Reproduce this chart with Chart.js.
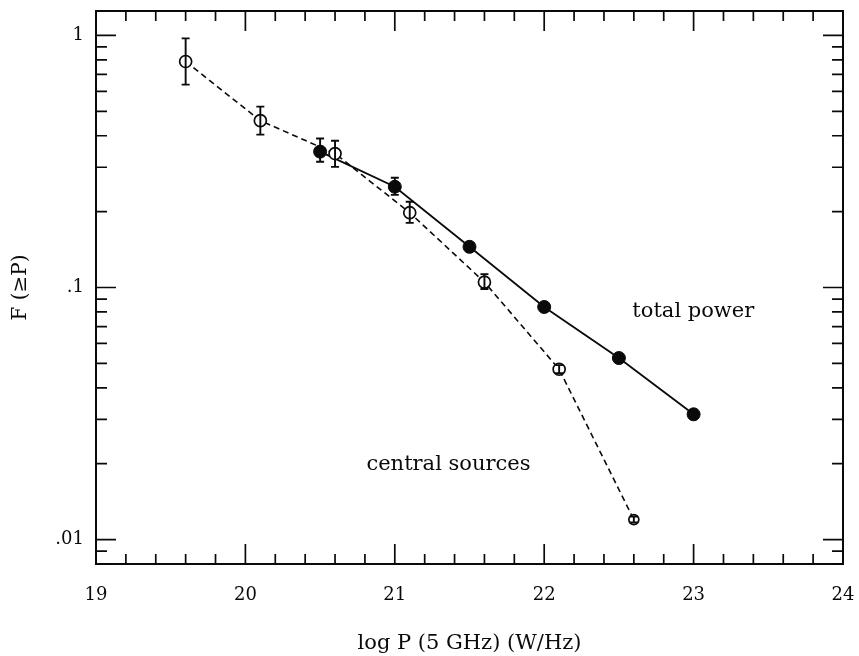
<!DOCTYPE html>
<html>
<head>
<meta charset="utf-8">
<script src="https://cdn.jsdelivr.net/npm/chart.js@4.4.1/dist/chart.umd.min.js"></script>
<style>
  html, body { margin: 0; background: #fff; }
  canvas { display: block; }
</style>
</head>
<body>
<canvas id="chart" width="859" height="656"></canvas>
<script>
// Central sources (open circles, dashed line)
var centralX = [19.6, 20.1, 20.6, 21.1, 21.6, 22.1, 22.6];
var centralY = [0.788, 0.459, 0.340, 0.198, 0.105, 0.0474, 0.0120];
var centralLo = [0.638, 0.404, 0.301, 0.1805, 0.0986, 0.0457, 0.01169];
var centralHi = [0.973, 0.522, 0.382, 0.219, 0.113, 0.0492, 0.01234];

// Total power (filled circles, solid line)
var totalX = [20.5, 21.0, 21.5, 22.0, 22.5, 23.0];
var totalY = [0.346, 0.251, 0.145, 0.0837, 0.0525, 0.0314];
var totalLo = [0.3155, 0.233, null, null, null, null];
var totalHi = [0.390, 0.2725, null, null, null, null];

// Axis ticks
var xTicks = [19, 20, 21, 22, 23, 24];
var yTicks = [0.01, 0.1, 1];
var yTickLabels = [".01", ".1", "1"];

// Text labels placed in data coordinates
var LABELS = [
  { text: "total power", x: 22.59, y: 0.080 },
  { text: "central sources", x: 20.81, y: 0.0199 }
];

var INK = "#0a0a0a";
var FONT = "'DejaVu Serif', serif";

function points(xs, ys) {
  return xs.map(function (x, i) { return { x: x, y: ys[i] }; });
}

// keep the plot box where the reference has it: no label overflow padding
function noOverflow(s) {
  s.paddingTop = 0; s.paddingBottom = 0; s.paddingLeft = 0; s.paddingRight = 0;
}

// Frame + inward ticks on all four sides.
var framePlugin = {
  id: "frame",
  afterDraw: function (chart) {
    var ctx = chart.ctx, a = chart.chartArea;
    var xs = chart.scales.x, ys = chart.scales.y;
    ctx.save();
    ctx.strokeStyle = INK;
    ctx.lineWidth = 2;
    ctx.strokeRect(a.left, a.top, a.right - a.left, a.bottom - a.top);
    ctx.lineWidth = 1.7;
    ctx.beginPath();
    // x ticks every 0.2, major at integers
    for (var k = 0; k <= 25; k++) {
      var v = 19 + k * 0.2;
      var px = xs.getPixelForValue(v);
      var len = (k % 5 === 0) ? 20 : 10;
      ctx.moveTo(px, a.bottom); ctx.lineTo(px, a.bottom - len);
      ctx.moveTo(px, a.top); ctx.lineTo(px, a.top + len);
    }
    // y ticks: 1..9 per decade
    [0.001, 0.01, 0.1, 1].forEach(function (dec) {
      for (var m = 1; m <= 9; m++) {
        var val = dec * m;
        if (val < ys.min || val > ys.max) continue;
        var py = ys.getPixelForValue(val);
        var l = (m === 1) ? 20 : 11;
        ctx.moveTo(a.left, py); ctx.lineTo(a.left + l, py);
        ctx.moveTo(a.right, py); ctx.lineTo(a.right - l, py);
      }
    });
    ctx.stroke();

    // text labels
    ctx.fillStyle = INK;
    ctx.font = "21px " + FONT;
    ctx.textBaseline = "middle";
    ctx.textAlign = "left";
    LABELS.forEach(function (lb) {
      ctx.fillText(lb.text, xs.getPixelForValue(lb.x), ys.getPixelForValue(lb.y));
    });
    ctx.restore();
  }
};

// Vertical error bars with caps.
var errorPlugin = {
  id: "errorBars",
  afterDatasetsDraw: function (chart) {
    var ctx = chart.ctx, ys = chart.scales.y;
    ctx.save();
    ctx.strokeStyle = INK;
    ctx.lineWidth = 1.9;
    chart.data.datasets.forEach(function (ds, di) {
      var meta = chart.getDatasetMeta(di);
      meta.data.forEach(function (pt, i) {
        var lo = ds.errLo[i], hi = ds.errHi[i];
        if (lo == null || hi == null) return;
        var yl = ys.getPixelForValue(lo), yh = ys.getPixelForValue(hi);
        ctx.beginPath();
        ctx.moveTo(pt.x, yl); ctx.lineTo(pt.x, yh);
        ctx.moveTo(pt.x - 4, yl); ctx.lineTo(pt.x + 4, yl);
        ctx.moveTo(pt.x - 4, yh); ctx.lineTo(pt.x + 4, yh);
        ctx.stroke();
      });
    });
    ctx.restore();
  }
};

Chart.defaults.font.family = FONT;
Chart.defaults.color = INK;

new Chart(document.getElementById("chart").getContext("2d"), {
  type: "scatter",
  data: {
    datasets: [{
      label: "central sources",
      data: points(centralX, centralY),
      errLo: centralLo,
      errHi: centralHi,
      showLine: true,
      borderColor: INK,
      borderWidth: 1.6,
      borderDash: [6, 4],
      pointRadius: function (c) { return c.dataIndex === centralX.length - 1 ? 5 : 6; },
      pointBackgroundColor: "#fff",
      pointBorderColor: INK,
      pointBorderWidth: 1.7
    }, {
      label: "total power",
      data: points(totalX, totalY),
      errLo: totalLo,
      errHi: totalHi,
      showLine: true,
      borderColor: INK,
      borderWidth: 1.8,
      pointRadius: 6.5,
      pointBackgroundColor: INK,
      pointBorderColor: INK,
      pointBorderWidth: 1
    }]
  },
  options: {
    responsive: false,
    animation: false,
    events: [],
    layout: { padding: { top: 11, right: 16, left: 0, bottom: 0 } },
    plugins: { legend: { display: false }, tooltip: { enabled: false } },
    scales: {
      x: {
        type: "linear",
        min: 19, max: 24,
        grid: { display: false, drawTicks: false },
        border: { display: false },
        afterBuildTicks: function (s) { s.ticks = xTicks.map(function (v) { return { value: v }; }); },
        afterFit: function (s) { s.height = 92; noOverflow(s); },
        ticks: {
          autoSkip: false, maxRotation: 0, padding: 21,
          font: { size: 18 }, color: INK,
          callback: function (v) { return String(v); }
        },
        title: {
          display: true, text: "log P (5 GHz) (W/Hz)",
          font: { size: 21 }, color: INK, padding: { top: 0, bottom: 0 }
        }
      },
      y: {
        type: "logarithmic",
        min: 0.008, max: 1.25,
        grid: { display: false, drawTicks: false },
        border: { display: false },
        afterBuildTicks: function (s) { s.ticks = yTicks.map(function (v) { return { value: v }; }); },
        afterFit: function (s) { s.width = 96; noOverflow(s); },
        ticks: {
          autoSkip: false, padding: 12,
          font: { size: 18 }, color: INK,
          callback: function (v) {
            var i = yTicks.indexOf(v);
            return i >= 0 ? yTickLabels[i] : "";
          }
        },
        title: {
          display: true, text: "F (\u2265P)",
          font: { size: 20 }, color: INK, padding: { top: 9, bottom: 0 }
        }
      }
    }
  },
  plugins: [errorPlugin, framePlugin]
});
</script>
</body>
</html>
